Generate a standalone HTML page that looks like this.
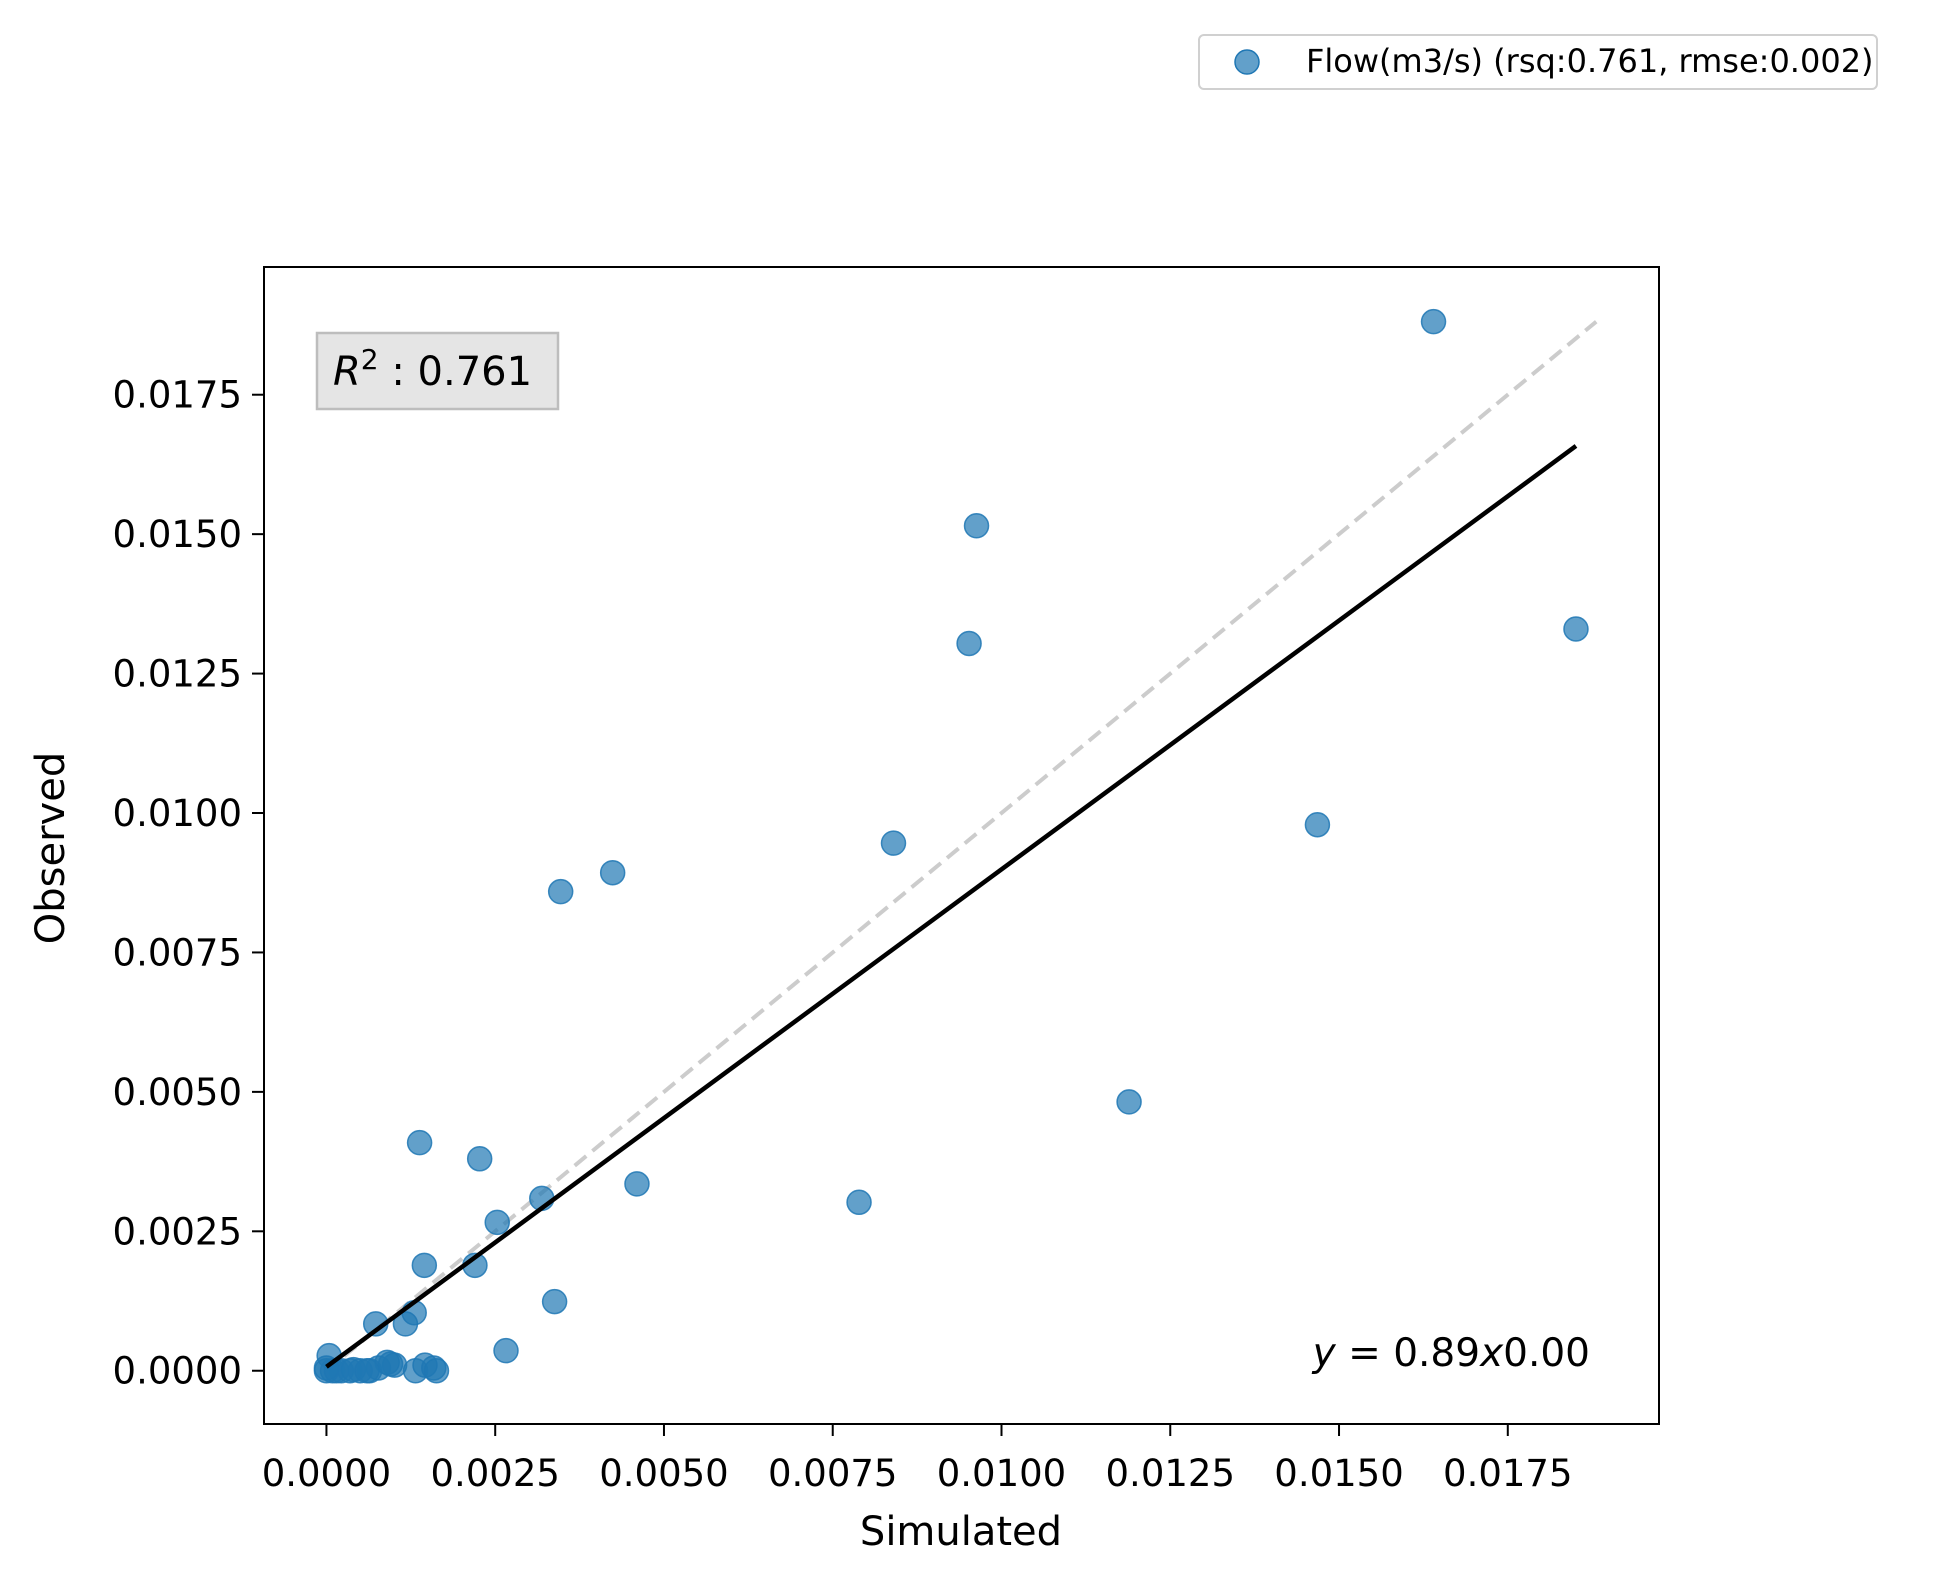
<!DOCTYPE html>
<html><head><meta charset="utf-8"><style>
body{margin:0;background:#fff;}
svg text{font-family:"DejaVu Sans","Liberation Sans",sans-serif;}
</style></head><body>
<svg id="chart" width="1941" height="1583" viewBox="0 0 1941 1583" xmlns="http://www.w3.org/2000/svg">
<rect width="1941" height="1583" fill="#fff"/>
<g id="grid-ticks"></g>
<line id="identity" stroke="#cccccc" stroke-width="4" stroke-dasharray="15,8"/>
<g id="points"></g>
<line id="reg" stroke="#000" stroke-width="4.5"/>
<rect x="264" y="267" width="1395" height="1157" fill="none" stroke="#000" stroke-width="2"/>
<g>
<rect x="317" y="333" width="241" height="76" fill="#e5e5e5" stroke="#bdbdbd" stroke-width="2.5"/>
<text x="333" y="385" font-size="40"><tspan font-style="italic">R</tspan><tspan font-size="28" dy="-16">2</tspan><tspan dy="16"> :  0.761</tspan></text>
</g>
<text x="1590" y="1366" font-size="39" text-anchor="end"><tspan font-style="italic">y</tspan> = 0.89<tspan font-style="italic">x</tspan>0.00</text>
<text x="961" y="1545" font-size="40" text-anchor="middle">Simulated</text>
<text x="64" y="848" font-size="40" text-anchor="middle" transform="rotate(-90 64 848)">Observed</text>
<g>
<rect x="1199" y="35" width="678" height="54" rx="5" fill="#fff" stroke="#d0d0d0" stroke-width="2"/>
<circle cx="1247" cy="62" r="12" fill="rgba(31,119,180,0.7)" stroke="#1f77b4" stroke-width="1.5"/>
<text x="1306" y="72" font-size="32">Flow(m3/s) (rsq:0.761, rmse:0.002)</text>
</g>
</svg>
<script>
const xs = [0.01640,0.00963,0.00952,0.01851,0.01468,0.00840,0.00424,0.00347,0.01189,0.00460,0.00789,0.00138,0.00227,0.00319,0.00253,0.00145,0.00220,0.00338,0.00073,0.00130,0.00117,0.00266,0.00004,0.00000,0.00009,0.00022,0.00035,0.00050,0.00064,0.00077,0.00090,0.00101,0.00132,0.00146,0.00159,0.00163,0.00000,0.00015,0.00040,0.00060,0.00095];
const ys = [0.01881,0.01515,0.01304,0.01330,0.00979,0.00946,0.00893,0.00859,0.00482,0.00335,0.00302,0.00409,0.00380,0.00309,0.00266,0.00189,0.00189,0.00124,0.00084,0.00104,0.00084,0.00036,0.00027,0.00000,0.00000,0.00000,0.00000,0.00000,0.00000,0.00005,0.00015,0.00010,0.00000,0.00010,0.00005,0.00000,0.00005,0.00000,0.00002,0.00000,0.00012];
const xTicks = [0,0.0025,0.005,0.0075,0.01,0.0125,0.015,0.0175];
const yTicks = [0,0.0025,0.005,0.0075,0.01,0.0125,0.015,0.0175];
const xLim = [-0.000925,0.01974];
const yLim = [-0.000955,0.01979];
const slope = [0.892];
const intercept = [0.00007];
const NS='http://www.w3.org/2000/svg';
const X0=264,X1=1659,Y0=267,Y1=1424;
function sx(v){return X0+(v-xLim[0])/(xLim[1]-xLim[0])*(X1-X0);}
function sy(v){return Y1-(v-yLim[0])/(yLim[1]-yLim[0])*(Y1-Y0);}
function mk(t,a){const e=document.createElementNS(NS,t);for(const k in a)e.setAttribute(k,a[k]);return e;}
const tg=document.getElementById('grid-ticks');
xTicks.forEach(v=>{
 const l=mk('line',{x1:sx(v),x2:sx(v),y1:Y1,y2:Y1+12,stroke:'#000','stroke-width':2});
 
 
 tg.appendChild(l);
 const t=mk('text',{x:sx(v),y:Y1+62,'font-size':37,'text-anchor':'middle'});
 
 
 t.textContent=v.toFixed(4);tg.appendChild(t);
});
yTicks.forEach(v=>{
 const l=mk('line',{x1:X0-12,x2:X0,y1:sy(v),y2:sy(v),stroke:'#000','stroke-width':2});
 
 
 tg.appendChild(l);
 const t=mk('text',{x:X0-22,y:sy(v)+13,'font-size':37,'text-anchor':'end'});
 
 
 t.textContent=v.toFixed(4);tg.appendChild(t);
});
const pg=document.getElementById('points');
xs.forEach((x,i)=>{
 const c=mk('circle',{cx:sx(x),cy:sy(ys[i]),r:12,fill:'rgba(31,119,180,0.7)',stroke:'rgba(31,119,180,0.85)','stroke-width':1.5});
 
 
 pg.appendChild(c);
});
const mx=Math.max(Math.max(...xs),Math.max(...ys));
const id=document.getElementById('identity');
id.setAttribute('x1',sx(0));id.setAttribute('y1',sy(0));id.setAttribute('x2',sx(mx));id.setAttribute('y2',sy(mx));
const xmin=Math.min(...xs),xmax=Math.max(...xs);
const r=document.getElementById('reg');
r.setAttribute('x1',sx(xmin));r.setAttribute('y1',sy(slope[0]*xmin+intercept[0]));
r.setAttribute('x2',sx(xmax));r.setAttribute('y2',sy(slope[0]*xmax+intercept[0]));
</script>
</body></html>
